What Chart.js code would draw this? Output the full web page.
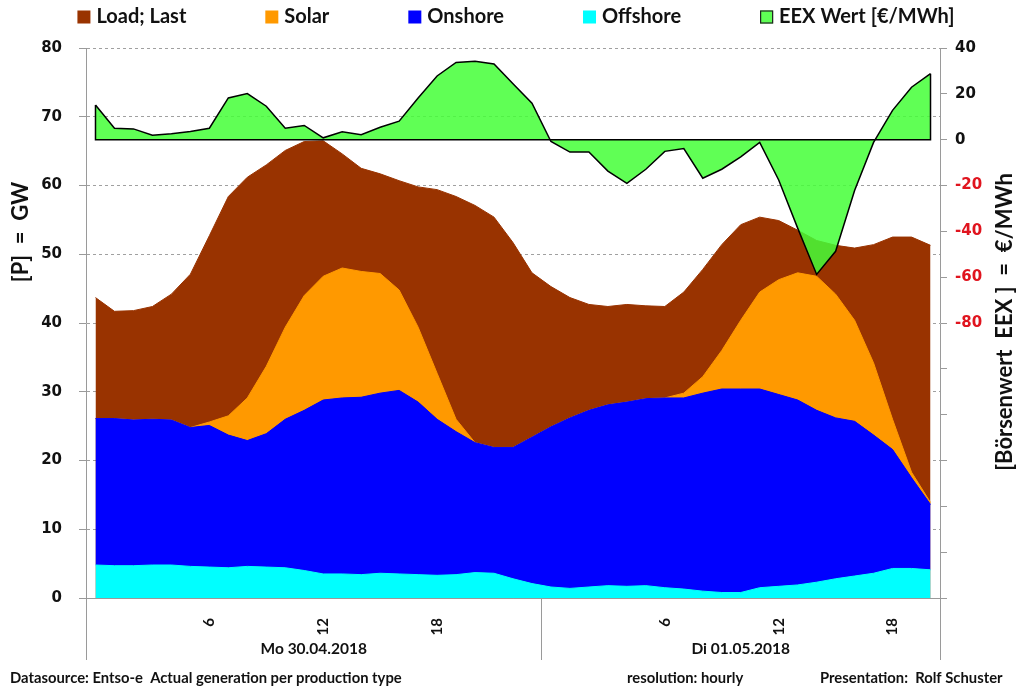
<!DOCTYPE html>
<html>
<head>
<meta charset="utf-8">
<script src="https://cdn.jsdelivr.net/npm/chart.js@4.4.1/dist/chart.umd.min.js"></script>
<style>
html,body{margin:0;padding:0;background:#fff;}
#wrap{width:1024px;height:690px;position:relative;}
</style>
</head>
<body>
<div id="wrap"><canvas id="c" width="1024" height="690"></canvas></div>
<script>
// ---- data (hourly, Mo 30.04.2018 00h .. Di 01.05.2018 20h) ----
const hours = ['0','1','2','3','4','5','6','7','8','9','10','11','12','13','14','15','16','17','18','19','20','21','22','23',
               '0','1','2','3','4','5','6','7','8','9','10','11','12','13','14','15','16','17','18','19','20'];
const hourTickLabels = ['6','12','18'];
const dayLabels = ['Mo 30.04.2018', 'Di 01.05.2018'];
const dayHours = [24, 21];

const load = [43.7,41.7,41.8,42.4,44.2,47.1,52.7,58.4,61.2,63.0,65.1,66.4,66.5,64.6,62.5,
              61.7,60.7,59.8,59.4,58.4,57.1,55.4,51.7,47.3,45.3,43.7,42.7,42.4,42.7,42.5,
              42.4,44.5,47.8,51.4,54.3,55.4,54.9,53.5,52.0,51.3,50.9,51.4,52.5,52.5,51.3];
const solar = [0,0,0,0,0,0,0.5,2.8,6.2,9.8,13.4,16.7,18.0,18.9,18.3,
               17.4,14.6,10.9,6.7,1.8,0,0,0,0,0,0,0,0,0,0,
               0,0.7,2.4,5.6,10.0,14.1,16.7,18.5,19.5,18.0,14.7,10.5,4.4,0.8,0.3];
const onshore = [21.3,21.4,21.2,21.2,21.1,20.2,20.6,19.3,18.3,19.4,21.6,23.3,25.3,25.6,25.8,
                 26.2,26.7,25.1,22.7,20.8,18.9,18.3,19.1,21.3,23.3,24.8,25.7,26.3,26.8,27.2,
                 27.6,27.8,28.8,29.6,29.6,28.9,27.9,26.9,25.0,23.4,22.5,20.1,17.3,13.2,9.5];
const offshore = [4.8,4.7,4.7,4.8,4.8,4.6,4.5,4.4,4.6,4.5,4.4,4.0,3.5,3.5,3.4,
                  3.6,3.5,3.4,3.3,3.4,3.7,3.6,2.8,2.1,1.6,1.4,1.6,1.8,1.7,1.8,
                  1.5,1.3,1.0,0.8,0.8,1.5,1.7,1.9,2.3,2.8,3.2,3.6,4.3,4.3,4.1];
const eex = [15.1,5.0,4.7,1.9,2.6,3.6,5.0,18.2,20.1,14.6,5.0,6.2,0.8,3.4,2.2,
             5.4,8.1,18.2,27.8,33.7,34.2,33.0,24.4,15.9,-0.8,-5.4,-5.4,-13.7,-19.1,-12.9,
             -5.1,-3.9,-16.8,-12.9,-7.5,-1.2,-17.6,-38.6,-58.8,-48.7,-22.2,-1.2,12.8,22.9,28.8];

const leftTitle = '[P]  =  GW';
const rightTitle = '[Börsenwert  EEX ]  =  €/MWh';
const footer = ['Datasource: Entso-e  Actual generation per production type', 'resolution: hourly', 'Presentation:  Rolf Schuster'];

const LABELFONT = 'Lato, "Open Sans", sans-serif';
const NUMFONT = '"DejaVu Sans", Verdana, sans-serif';

const extras = {
  id: 'extras',
  afterDatasetsDraw(chart) {
    // closing outline of the EEX area along its zero baseline (as in the original)
    const ctx = chart.ctx;
    const meta = chart.getDatasetMeta(4);
    const pts = meta.data;
    const y0 = chart.scales.y2.getPixelForValue(0);
    ctx.save();
    ctx.strokeStyle = '#000'; ctx.lineWidth = 1.5;
    ctx.beginPath();
    ctx.moveTo(pts[0].x, pts[0].y);
    ctx.lineTo(pts[0].x, y0);
    ctx.lineTo(pts[pts.length - 1].x, y0);
    ctx.lineTo(pts[pts.length - 1].x, pts[pts.length - 1].y);
    ctx.stroke();
    ctx.restore();
  },
  afterDraw(chart) {
    const ctx = chart.ctx;
    const ca = chart.chartArea;
    ctx.save();
    // legend
    ctx.font = 'bold 20px ' + LABELFONT;
    ctx.textBaseline = 'middle'; ctx.textAlign = 'left';
    const ds = chart.data.datasets;
    const box = 13, gapT = 6, gapI = 79;
    const widths = ds.map(d => box + gapT + ctx.measureText(d.label).width);
    const total = widths.reduce((a, b) => a + b, 0) + gapI * (ds.length - 1);
    let lx = 516 - total / 2;
    const ly = 17;
    ds.forEach((d, i) => {
      const fc = d.legendColor || d.backgroundColor;
      ctx.fillStyle = fc;
      ctx.fillRect(lx, ly - 6.5, box, box);
      if (d.legendBorder) { ctx.strokeStyle = d.legendBorder; ctx.lineWidth = 1.2; ctx.strokeRect(lx + 0.5, ly - 6, box - 1, box - 1); }
      ctx.fillStyle = '#111';
      ctx.fillText(d.label, lx + box + gapT, ly);
      lx += widths[i] + gapI;
    });
    // day separators
    ctx.strokeStyle = '#9a9a9a';
    ctx.lineWidth = 1;
    const step = (ca.right - ca.left) / hours.length;
    const seps = [ca.left];
    let acc = 0;
    dayHours.forEach(h => { acc += h; seps.push(ca.left + acc * step); });
    seps.forEach(sx => {
      ctx.beginPath(); ctx.moveTo(Math.round(sx) + 0.5, ca.bottom); ctx.lineTo(Math.round(sx) + 0.5, ca.bottom + 62); ctx.stroke();
    });
    // day labels
    ctx.fillStyle = '#111';
    ctx.font = 'bold 15.5px ' + LABELFONT;
    ctx.textAlign = 'center'; ctx.textBaseline = 'middle';
    dayLabels.forEach((t, i) => ctx.fillText(t, (seps[i] + seps[i + 1]) / 2, ca.bottom + 51));
    // footer
    ctx.font = 'bold 14.8px ' + LABELFONT;
    ctx.textAlign = 'left';
    ctx.fillText(footer[0], 10, 678);
    ctx.fillText(footer[1], 627, 678);
    ctx.fillText(footer[2], 820, 678);
    // axis titles
    ctx.font = 'bold 22px ' + LABELFONT;
    ctx.textAlign = 'center';
    ctx.save(); ctx.translate(21, 232); ctx.rotate(-Math.PI / 2); ctx.fillText(leftTitle, 0, 0); ctx.restore();
    ctx.save(); ctx.translate(1005, 322); ctx.rotate(-Math.PI / 2); ctx.fillText(rightTitle, 0, 0); ctx.restore();
    ctx.restore();
  }
};

const areaDs = (label, data, color, order, stack, fill) => ({
  label, data, order, stack, fill,
  backgroundColor: color, borderColor: color, borderWidth: 1,
  pointRadius: 0, pointHoverRadius: 0, tension: 0, yAxisID: 'y'
});

new Chart(document.getElementById('c'), {
  type: 'line',
  data: {
    labels: hours,
    datasets: [
      areaDs('Load; Last', load, '#993300', 4, 'load', 'origin'),
      areaDs('Solar', solar, '#FF9900', 3, 'gen', '+1'),
      areaDs('Onshore', onshore, '#0000FF', 2, 'gen', '+1'),
      areaDs('Offshore', offshore, '#00FFFF', 1, 'gen', 'origin'),
      {
        label: 'EEX Wert [€/MWh]', data: eex, order: 0, yAxisID: 'y2',
        fill: { value: 0 }, backgroundColor: 'rgba(68,255,55,0.85)', borderColor: '#000', borderWidth: 1.5,
        legendColor: '#5fff55', legendBorder: '#222',
        pointRadius: 0, pointHoverRadius: 0, tension: 0
      }
    ]
  },
  options: {
    responsive: false, animation: false, devicePixelRatio: 1,
    layout: { padding: { top: 48, left: 0, right: 0, bottom: 0 } },
    plugins: {
      tooltip: { enabled: false },
      legend: { display: false }
    },
    scales: {
      x: {
        type: 'category', offset: true,
        grid: { display: false, drawTicks: false },
        border: { display: true, color: '#9a9a9a' },
        ticks: {
          autoSkip: false, minRotation: 90, maxRotation: 90, padding: 20, color: '#111',
          font: { family: LABELFONT, size: 15, weight: 'bold' },
          callback: (v, i) => hourTickLabels.includes(hours[i]) ? hours[i] : ''
        },
        afterFit: s => { s.height = 92; }
      },
      y: {
        position: 'left', stacked: true, min: 0, max: 80,
        ticks: { stepSize: 10, padding: 17, color: '#111', font: { family: NUMFONT, size: 15, weight: 'bold' } },
        grid: { color: '#a0a0a0', tickLength: 7, tickColor: '#9a9a9a', tickBorderDash: [], lineWidth: 1 },
        border: { display: true, color: '#9a9a9a', dash: [3, 3] },
        afterFit: s => { s.width = 86; }
      },
      y2: {
        position: 'right', min: -200, max: 40,
        ticks: {
          stepSize: 20, padding: 8, font: { family: NUMFONT, size: 15, weight: 'bold' },
          color: c => (c.tick && c.tick.value < 0) ? '#e0141e' : '#111',
          callback: v => v >= -80 ? String(v) : ''
        },
        grid: { drawOnChartArea: false, tickLength: 7, color: '#9a9a9a' },
        border: { display: true, color: '#9a9a9a' },
        afterFit: s => { s.width = 84; }
      }
    }
  },
  plugins: [extras]
});
</script>
</body>
</html>
